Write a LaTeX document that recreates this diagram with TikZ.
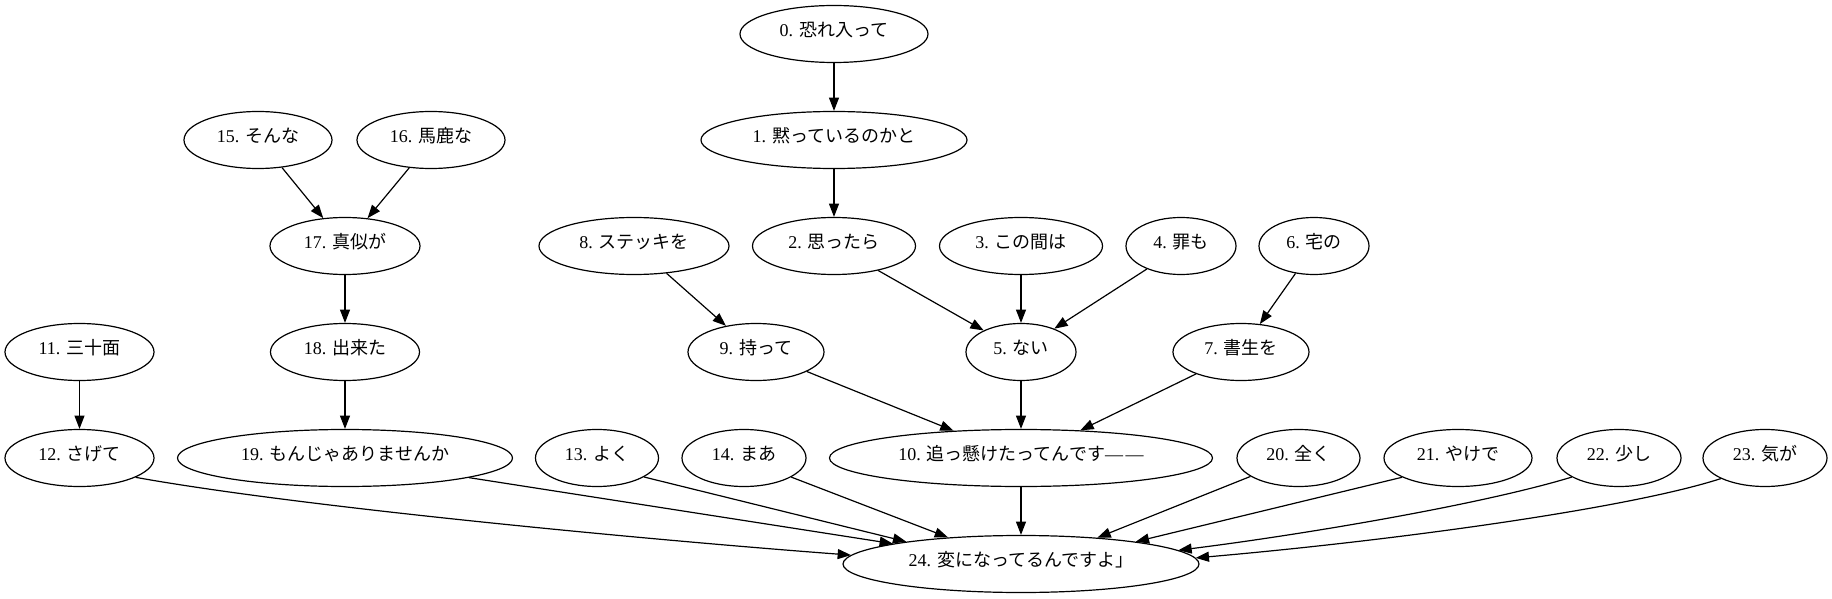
\documentclass[tikz,border=0pt]{standalone}
\usepackage{fontspec}
\setmainfont{Liberation Serif}
\newfontfamily\jpfont{Noto Sans CJK JP}
\newcommand\jp[1]{{\jpfont #1}}
\usetikzlibrary{shapes.geometric,arrows.meta}
\begin{document}
\begin{tikzpicture}[x=0.75pt,y=-0.75pt,
  nd/.style={ellipse, draw, line width=0.9pt, inner sep=0pt, minimum height=42.75pt, text height=12pt, text depth=8pt, font=\fontsize{13.5}{16}\selectfont},
  wd/.style={minimum width=#1*0.75pt},
  arr/.style={line width=0.9pt, -{Triangle[length=10pt,width=7.5pt]}}]
\useasboundingbox (0,0) rectangle (1832,599);
% rank 0
\node[nd, wd=188] (n0) at (834,34) {0. \jp{恐れ入って}};
% rank 1
\node[nd, wd=148] (n15) at (258,140) {15. \jp{そんな}};
\node[nd, wd=148] (n16) at (431,140) {16. \jp{馬鹿な}};
\node[nd, wd=266] (n1) at (834,140) {1. \jp{黙っているのかと}};
% rank 2
\node[nd, wd=150] (n17) at (345,246) {17. \jp{真似が}};
\node[nd, wd=190] (n8) at (634,246) {8. \jp{ステッキを}};
\node[nd, wd=163] (n2) at (834,246) {2. \jp{思ったら}};
\node[nd, wd=163] (n3) at (1021,246) {3. \jp{この間は}};
\node[nd, wd=110] (n4) at (1181,246) {4. \jp{罪も}};
\node[nd, wd=110] (n6) at (1314,246) {6. \jp{宅の}};
% rank 3
\node[nd, wd=149] (n11) at (79.5,352) {11. \jp{三十面}};
\node[nd, wd=149] (n18) at (345,352) {18. \jp{出来た}};
\node[nd, wd=136] (n9) at (756,352) {9. \jp{持って}};
\node[nd, wd=110] (n5) at (1021,352) {5. \jp{ない}};
\node[nd, wd=136] (n7) at (1241,352) {7. \jp{書生を}};
% rank 4
\node[nd, wd=149] (n12) at (79.5,458) {12. \jp{さげて}};
\node[nd, wd=335] (n19) at (345,458) {19. \jp{もんじゃありませんか}};
\node[nd, wd=123] (n13) at (597,458) {13. \jp{よく}};
\node[nd, wd=124] (n14) at (744,458) {14. \jp{まあ}};
\node[nd, wd=383] (n10) at (1021,458) {10. \jp{追っ懸けたってんです}—\hspace{2pt}—};
\node[nd, wd=123] (n20) at (1298.5,458) {20. \jp{全く}};
\node[nd, wd=148] (n21) at (1458,458) {21. \jp{やけで}};
\node[nd, wd=124] (n22) at (1619,458) {22. \jp{少し}};
\node[nd, wd=124] (n23) at (1765,458) {23. \jp{気が}};
% rank 5
\node[nd, wd=356] (n24) at (1021,564) {24. \jp{変になってるんですよ」}};
% edges
\draw[arr] (n0) -- (n1);
\draw[arr] (n1) -- (n2);
\draw[arr] (n15.-49) -- (n17.128);
\draw[arr] (n16.232) -- (n17.51);
\draw[arr] (n17) -- (n18);
\draw[arr] (n18) -- (n19);
\draw[arr] (n11) -- (n12);
\draw[arr] (n8.-40) -- (n9.139);
\draw[arr] (n2.-29) -- (n5.150);
\draw[arr] (n3) -- (n5);
\draw[arr] (n4.-146) -- (n5.35);
\draw[arr] (n6.236) -- (n7.56);
\draw[arr] (n9.-21) -- (n10.158);
\draw[arr] (n5) -- (n10);
\draw[arr] (n7.-154) -- (n10.25);
\draw[arr] (n12.-19) .. controls (300,507) and (650,540) .. (n24.177);
\draw[arr] (n19.-9) -- (n24.171);
\draw[arr] (n13.-22) -- (n24.169);
\draw[arr] (n14.-22) -- (n24.160);
\draw[arr] (n10) -- (n24);
\draw[arr] (n20.-159) -- (n24.19);
\draw[arr] (n21.-161) -- (n24.11);
\draw[arr] (n22.-158) .. controls (1480,505) and (1300,535) .. (n24.5);
\draw[arr] (n23.-155) .. controls (1630,508) and (1400,540) .. (n24.2);
\end{tikzpicture}
\end{document}
